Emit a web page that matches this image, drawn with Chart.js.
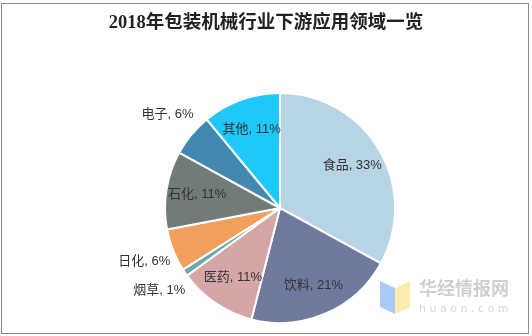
<!DOCTYPE html>
<html>
<head>
<meta charset="utf-8">
<script src="https://cdn.jsdelivr.net/npm/chart.js@4.4.0/dist/chart.umd.min.js"></script>
<style>
  html, body { margin: 0; padding: 0; background: #fff; }
  #wrap { width: 532px; height: 336px; position: relative; }
</style>
</head>
<body>
<div id="wrap"><canvas id="pie" width="532" height="336"></canvas></div>
<script>
// ------------------------
// Data
// ------------------------
const categories = ["食品", "饮料", "医药", "烟草", "日化", "石化", "电子", "其他"];
const shares = [33, 21, 11, 1, 6, 11, 6, 11];
const sliceColors = ["#B7D4E4", "#6F7A9E", "#D5A6A6", "#6BA9AB", "#F0A05C", "#737B78", "#4388B1", "#1FC8FB"];
const titleText = "2018年包装机械行业下游应用领域一览";

const LABEL_FONT = '13px "Liberation Sans", "Noto Sans CJK SC", sans-serif';

// frame, title and watermark
const decorPlugin = {
    id: "decor",
    beforeDraw(chart) {
        const ctx = chart.ctx;
        ctx.save();
        ctx.fillStyle = "#fff";
        ctx.fillRect(0, 0, chart.width, chart.height);
        ctx.strokeStyle = "#8a8a8a";
        ctx.lineWidth = 1;
        ctx.strokeRect(1.5, 3.5, 527, 330);

        ctx.fillStyle = "#222";
        ctx.font = 'bold 18.5px "Liberation Serif", "Noto Sans CJK SC", serif';
        ctx.textAlign = "center";
        ctx.textBaseline = "middle";
        ctx.fillText(titleText, 266, 23);

        // watermark logo
        ctx.fillStyle = "#A9CBF5";
        ctx.beginPath();
        ctx.moveTo(380, 281); ctx.lineTo(395, 288); ctx.lineTo(395, 314); ctx.lineTo(380, 307);
        ctx.closePath(); ctx.fill();
        ctx.fillStyle = "#FBEDB0";
        ctx.beginPath();
        ctx.moveTo(395, 288); ctx.lineTo(410, 281); ctx.lineTo(410, 307); ctx.lineTo(395, 314);
        ctx.closePath(); ctx.fill();
        ctx.fillStyle = "#cfcfcf";
        ctx.font = 'bold 18px "Noto Sans CJK SC", sans-serif';
        ctx.textAlign = "left";
        ctx.fillText("华经情报网", 419, 288);
        ctx.font = '11px "DejaVu Sans", sans-serif';
        ctx.fillStyle = "#d6d6d6";
        ctx.fillText("h u a o n . c o m", 419, 309);
        ctx.restore();
    },
};

// slice labels: inside for big slices, outside for small ones
const labelPlugin = {
    id: "sliceLabels",
    afterDatasetsDraw(chart) {
        const ctx = chart.ctx;
        const meta = chart.getDatasetMeta(0);
        ctx.save();
        ctx.font = LABEL_FONT;
        ctx.fillStyle = "#333";
        ctx.textAlign = "center";
        ctx.textBaseline = "middle";
        meta.data.forEach((arc, i) => {
            const p = arc.getProps(["x", "y", "startAngle", "endAngle", "outerRadius"], true);
            const mid = (p.startAngle + p.endAngle) / 2;
            const r = shares[i] > 6 ? p.outerRadius * 0.73 : p.outerRadius * 1.27;
            const x = p.x + Math.cos(mid) * r;
            const y = p.y + Math.sin(mid) * r;
            ctx.fillText(categories[i] + ", " + shares[i] + "%", x, y);
        });
        ctx.restore();
    },
};

new Chart(document.getElementById("pie").getContext("2d"), {
    type: "pie",
    data: {
        labels: categories,
        datasets: [{
            data: shares,
            backgroundColor: sliceColors,
            borderColor: "#fff",
            borderWidth: 2,
        }],
    },
    options: {
        responsive: false,
        animation: false,
        layout: { padding: { top: 92, bottom: 12, left: 60, right: 32 } },
        plugins: {
            legend: { display: false },
            tooltip: { enabled: false },
            title: { display: false },
        },
    },
    plugins: [decorPlugin, labelPlugin],
});
</script>
</body>
</html>
